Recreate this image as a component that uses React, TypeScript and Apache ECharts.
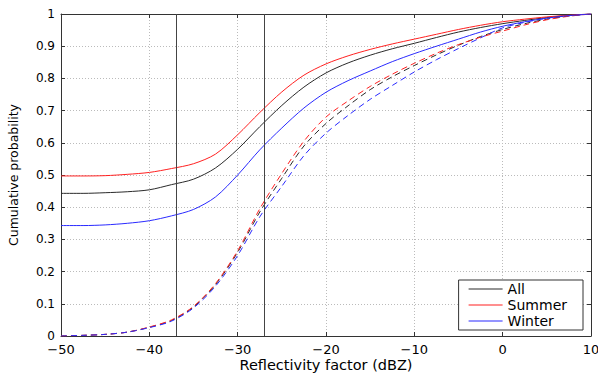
import React, { useEffect, useRef } from "react";
import * as echarts from "echarts";

const xValues = [-50, -47.5, -45, -42.5, -40, -37.5, -35, -32.5, -30, -27.5, -25, -22.5, -20, -17.5, -15, -12.5, -10, -7.5, -5, -2.5, 0, 2.5, 5, 7.5, 10];

const allSolid = [0.443, 0.443, 0.445, 0.448, 0.454, 0.47, 0.487, 0.522, 0.58, 0.65, 0.716, 0.773, 0.817, 0.848, 0.872, 0.892, 0.909, 0.927, 0.944, 0.958, 0.97, 0.98, 0.989, 0.996, 1];
const summerSolid = [0.497, 0.497, 0.498, 0.502, 0.508, 0.52, 0.535, 0.565, 0.625, 0.694, 0.758, 0.81, 0.845, 0.87, 0.89, 0.907, 0.922, 0.937, 0.952, 0.965, 0.976, 0.984, 0.991, 0.996, 1];
const winterSolid = [0.343, 0.343, 0.345, 0.35, 0.358, 0.373, 0.393, 0.432, 0.5, 0.578, 0.646, 0.708, 0.757, 0.793, 0.823, 0.852, 0.877, 0.9, 0.922, 0.944, 0.962, 0.976, 0.987, 0.995, 1];

const allDashed = [0, 0.002, 0.005, 0.012, 0.027, 0.048, 0.09, 0.16, 0.26, 0.385, 0.49, 0.59, 0.66, 0.715, 0.765, 0.805, 0.84, 0.873, 0.903, 0.93, 0.952, 0.97, 0.984, 0.994, 1];
const summerDashed = [0, 0.002, 0.005, 0.012, 0.028, 0.05, 0.092, 0.163, 0.265, 0.395, 0.505, 0.605, 0.68, 0.73, 0.775, 0.813, 0.847, 0.878, 0.905, 0.928, 0.947, 0.966, 0.982, 0.993, 1];
const winterDashed = [0, 0.002, 0.005, 0.012, 0.026, 0.046, 0.087, 0.155, 0.25, 0.37, 0.465, 0.56, 0.63, 0.685, 0.735, 0.778, 0.82, 0.858, 0.893, 0.926, 0.957, 0.974, 0.987, 0.995, 1];

const thresholds = [-37, -27];
const legendNames = ["All", "Summer", "Winter"];
const xTitle = "Reflectivity factor (dBZ)";
const yTitle = "Cumulative probability";

const COLORS = { All: "#2a2a2a", Summer: "#ff2020", Winter: "#2a2aff" };
const FONT = "DejaVu Sans";

function pairs(ys: number[]) {
  return xValues.map((x, i) => [x, ys[i]]);
}

export default function App() {
  const ref = useRef<HTMLDivElement>(null);
  useEffect(() => {
    if (!ref.current) return;
    const chart = echarts.init(ref.current, undefined, { renderer: "svg" });
    const lineSeries = (name: string, ys: number[], color: string, dashed: boolean, extra: any = {}) => ({
      type: "line",
      name,
      data: pairs(ys),
      xAxisIndex: 0,
      yAxisIndex: 0,
      showSymbol: false,
      symbol: "none",
      smooth: 0.3,
      lineStyle: { color, width: 1, type: dashed ? [6, 4] : "solid" },
      itemStyle: { color },
      z: dashed ? 3 : 4,
      ...extra,
    });
    const axisLineStyle = { color: "#333", width: 1 };
    const gridLine = { show: true, lineStyle: { color: "#bbb", type: [1, 2], width: 1 } };
    chart.setOption({
      animation: false,
      textStyle: { fontFamily: FONT, color: "#000" },
      grid: { left: 61, right: 7, top: 14, bottom: 38, containLabel: false, outerBoundsMode: "none" },
      legend: {
        data: legendNames,
        orient: "vertical",
        right: 15,
        bottom: 44,
        icon: "rect",
        itemWidth: 34,
        itemHeight: 1,
        itemGap: 2,
        itemTextGap: 6,
        padding: [2, 16, 2, 10],
        borderColor: "#333",
        borderWidth: 1,
        backgroundColor: "#fff",
        textStyle: { fontFamily: FONT, fontSize: 14, lineHeight: 14, color: "#000" },
        selectedMode: false,
      },
      xAxis: [
        {
          type: "value",
          min: -50,
          max: 10,
          interval: 10,
          name: xTitle,
          nameLocation: "middle",
          nameGap: 21.5,
          nameMoveOverlap: false,
          nameTextStyle: { fontFamily: FONT, fontSize: 14.5, lineHeight: 14.5, color: "#000" },
          axisLine: { show: true, onZero: false, lineStyle: axisLineStyle },
          axisTick: { show: true, inside: true, length: 4, lineStyle: axisLineStyle },
          axisLabel: {
            margin: 7,
            fontFamily: FONT,
            fontSize: 13,
            lineHeight: 12,
            color: "#000",
            formatter: (v: number) => String(v).replace("-", "\u2212"),
          },
          splitLine: gridLine,
        },
        {
          type: "value",
          position: "top",
          min: -50,
          max: 10,
          interval: 10,
          axisLine: { show: true, onZero: false, lineStyle: axisLineStyle },
          axisTick: { show: true, inside: true, length: 4, lineStyle: axisLineStyle },
          axisLabel: { show: false },
          splitLine: { show: false },
        },
      ],
      yAxis: [
        {
          type: "value",
          min: 0,
          max: 1,
          interval: 0.1,
          name: yTitle,
          nameLocation: "middle",
          nameGap: 41,
          nameMoveOverlap: false,
          nameTextStyle: { fontFamily: FONT, fontSize: 12.5, color: "#000" },
          axisLine: { show: true, onZero: false, lineStyle: axisLineStyle },
          axisTick: { show: true, inside: true, length: 4, lineStyle: axisLineStyle },
          axisLabel: { margin: 6, fontFamily: FONT, fontSize: 12, lineHeight: 12, color: "#000" },
          splitLine: gridLine,
        },
        {
          type: "value",
          position: "right",
          min: 0,
          max: 1,
          interval: 0.1,
          axisLine: { show: true, onZero: false, lineStyle: axisLineStyle },
          axisTick: { show: true, inside: true, length: 4, lineStyle: axisLineStyle },
          axisLabel: { show: false },
          splitLine: { show: false },
        },
      ],
      series: [
        lineSeries("All", allSolid, COLORS.All, false, {
          markLine: {
            silent: true,
            symbol: "none",
            label: { show: false },
            lineStyle: { color: "#444", width: 1, type: "solid" },
            data: thresholds.map((t) => ({ xAxis: t })),
          },
        }),
        lineSeries("Summer", summerSolid, COLORS.Summer, false),
        lineSeries("Winter", winterSolid, COLORS.Winter, false),
        lineSeries("All (dashed)", allDashed, COLORS.All, true),
        lineSeries("Summer (dashed)", summerDashed, COLORS.Summer, true),
        lineSeries("Winter (dashed)", winterDashed, COLORS.Winter, true),
      ],
    });
    return () => chart.dispose();
  }, []);
  return (
    <div
      ref={ref}
      style={{ position: "fixed", left: 0, top: 0, width: 598, height: 374, background: "#fff" }}
    />
  );
}
